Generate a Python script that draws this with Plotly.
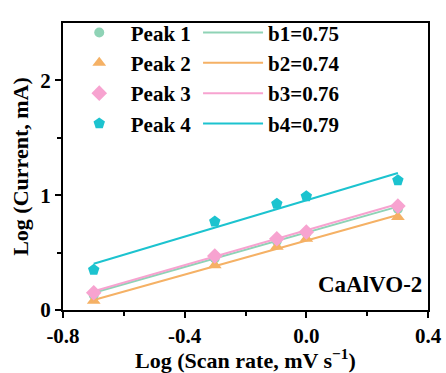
import plotly.graph_objects as go
import numpy as np

log_rate = [-0.699, -0.301, -0.097, 0.0, 0.301]
peak_names = ["Peak 1", "Peak 2", "Peak 3", "Peak 4"]
peak1 = [0.13, 0.45, 0.60, 0.67, 0.88]
peak2 = [0.08, 0.39, 0.55, 0.62, 0.81]
peak3 = [0.15, 0.47, 0.62, 0.68, 0.905]
peak4 = [0.35, 0.77, 0.925, 0.99, 1.13]
slopes = [0.75, 0.74, 0.76, 0.79]
intercepts = [0.675, 0.605, 0.695, 0.955]
fit_labels = ["b1=0.75", "b2=0.74", "b3=0.76", "b4=0.79"]
colors = ["#8fd3b6", "#f5b165", "#f7a3d0", "#1cc3cf"]
symbols = ["circle", "triangle-up", "diamond", "pentagon"]
sizes = [10, 12, 12, 12]

FONT = "Liberation Serif"
peaks = [peak1, peak2, peak3, peak4]

fig = go.Figure()
xr = np.array([log_rate[0], log_rate[-1]])
for i in range(4):
    fig.add_trace(go.Scatter(
        x=xr, y=intercepts[i] + slopes[i] * xr, mode="lines",
        line=dict(color=colors[i], width=2), name="<b>" + fit_labels[i] + "</b>",
        legend="legend2"))
for i in range(4):
    fig.add_trace(go.Scatter(
        x=log_rate, y=peaks[i], mode="markers",
        marker=dict(symbol=symbols[i], size=sizes[i], color=colors[i]),
        name="<b>" + peak_names[i] + "</b>", legend="legend"))

fig.add_annotation(x=0.99, y=0.04, xref="paper", yref="paper", xanchor="right",
                   yanchor="bottom", text="<b>CaAlVO-2</b>", showarrow=False,
                   font=dict(family=FONT, size=23, color="black"))

axis_common = dict(showline=True, linecolor="black", linewidth=2, mirror=True,
                   ticks="outside", ticklen=6, tickwidth=2, tickcolor="black",
                   showgrid=False, zeroline=False, automargin=False,
                   tickfont=dict(family=FONT, size=21, color="black"))

fig.update_layout(
    width=446, height=373,
    margin=dict(l=63, r=18, t=14, b=63),
    plot_bgcolor="white", paper_bgcolor="white",
    xaxis=dict(range=[-0.8, 0.4], tickvals=[-0.8, -0.4, 0.0, 0.4],
               ticktext=["<b>-0.8</b>", "<b>-0.4</b>", "<b>0.0</b>", "<b>0.4</b>"],
               minor=dict(tickvals=[-0.6, -0.2, 0.2], ticks="outside", ticklen=4,
                          tickwidth=2, tickcolor="black"),
               title=dict(text="<b>Log (Scan rate, mV s<sup>−1</sup>)</b>",
                          font=dict(family=FONT, size=22, color="black"), standoff=4),
               **axis_common),
    yaxis=dict(range=[0, 2.5], tickvals=[0, 1, 2],
               ticktext=["<b>0</b>", "<b>1</b>", "<b>2</b>"],
               minor=dict(tickvals=[0.5, 1.5], ticks="outside", ticklen=4,
                          tickwidth=2, tickcolor="black"),
               title=dict(text="<b>Log (Current, mA)</b>",
                          font=dict(family=FONT, size=22, color="black"), standoff=6),
               **axis_common),
    legend=dict(x=0.013, y=1.037, xanchor="left", yanchor="top", bgcolor="rgba(0,0,0,0)",
                font=dict(family=FONT, size=21, color="black"),
                traceorder="normal", itemwidth=53),
    legend2=dict(x=0.37, y=1.037, xanchor="left", yanchor="top", bgcolor="rgba(0,0,0,0)",
                 font=dict(family=FONT, size=21, color="black"),
                 traceorder="normal", itemwidth=60),
)

fig.write_html("out.html")
